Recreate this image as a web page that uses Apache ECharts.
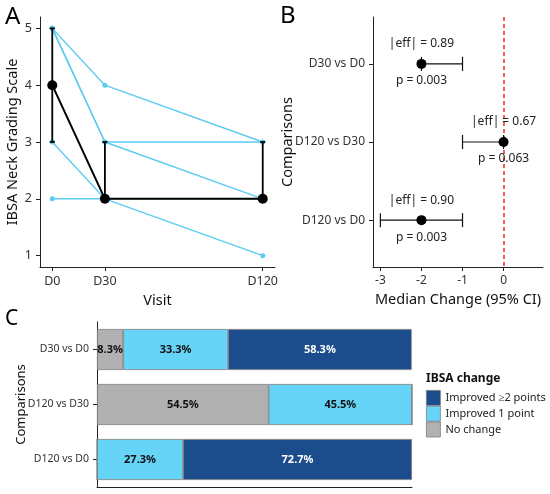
<!DOCTYPE html>
<html>
<head>
<meta charset="utf-8">
<script src="https://cdn.jsdelivr.net/npm/echarts@6/dist/echarts.min.js"></script>
<style>
  html, body { margin: 0; padding: 0; background: #fff; }
  #main { width: 550px; height: 494px; }
</style>
</head>
<body>
<div id="main"></div>
<script>
// panel A: individual patients + median (IQR)
const visitDays = [0, 30, 120]
const visitLabels = ['D0', 'D30', 'D120']
const patients = [[5, 4, 3], [5, 3, 3], [5, 3, 2], [3, 2, 1], [2, 2, 2]]
const medianScore = [4, 2, 2]
const q1Score = [3, 2, 2]
const q3Score = [5, 3, 3]
const scoreTicks = [1, 2, 3, 4, 5]

// panel B: median change (95% CI)
const comparisons = ['D30 vs D0', 'D120 vs D30', 'D120 vs D0']
const medianChange = [-2, 0, -2]
const ciLow = [-2, -1, -3]
const ciHigh = [-1, 0, -1]
const effSize = ['0.89', '0.67', '0.90']
const pValue = ['0.003', '0.063', '0.003']
const changeTicks = [-3, -2, -1, 0]

// panel C: share of patients by IBSA change
const changeGroups = ['Improved \u22652 points', 'Improved 1 point', 'No change']
const noChange = [8.3, 54.5, 0]
const improved1 = [33.3, 45.5, 27.3]
const improved2 = [58.3, 0, 72.7]

const FONT = 'Noto Sans'
const AXIS = { onZero: false, lineStyle: { color: '#222', width: 1 } }
const TICK = { length: 4, lineStyle: { color: '#222' } }
const lbl = (size) => ({ color: '#333', fontSize: size, fontFamily: FONT })
const name = (size) => ({ color: '#111', fontSize: size, fontFamily: FONT })
const BLUE = '#5CCBF2'
const colNo = '#B1B1B1', col1 = '#66D4F7', col2 = '#1B4C8B'

const series = []

patients.forEach(p => {
  series.push({
    type: 'line', xAxisIndex: 0, yAxisIndex: 0, z: 2,
    data: p.map((v, i) => [visitDays[i], v]),
    symbol: 'circle', symbolSize: 5, color: BLUE,
    lineStyle: { color: BLUE, width: 1.4 }, silent: true
  })
})

series.push({
  type: 'custom', xAxisIndex: 0, yAxisIndex: 0, z: 4,
  data: visitDays.map((d, i) => [d, q1Score[i], q3Score[i]]),
  renderItem: (params, api) => {
    const lo = api.coord([api.value(0), api.value(1)])
    const hi = api.coord([api.value(0), api.value(2)])
    const st = { stroke: '#000', lineWidth: 1.8 }
    return {
      type: 'group',
      children: [
        { type: 'line', shape: { x1: lo[0], y1: lo[1], x2: hi[0], y2: hi[1] }, style: st },
        { type: 'line', shape: { x1: lo[0] - 2.5, y1: lo[1], x2: lo[0] + 2.5, y2: lo[1] }, style: st },
        { type: 'line', shape: { x1: hi[0] - 2.5, y1: hi[1], x2: hi[0] + 2.5, y2: hi[1] }, style: st }
      ]
    }
  }
})

series.push({
  type: 'line', xAxisIndex: 0, yAxisIndex: 0, z: 5,
  data: visitDays.map((d, i) => [d, medianScore[i]]),
  symbol: 'circle', symbolSize: 10, color: '#000',
  lineStyle: { color: '#000', width: 2 }
})

// forest plot
series.push({
  type: 'custom', xAxisIndex: 1, yAxisIndex: 1, z: 4,
  data: comparisons.map((c, i) => [ciLow[i], ciHigh[i], i, medianChange[i]]),
  renderItem: (params, api) => {
    const i = api.value(2)
    const a = api.coord([api.value(0), i])
    const b = api.coord([api.value(1), i])
    const m = api.coord([api.value(3), i])
    const st = { stroke: '#111', lineWidth: 1.2 }
    const ts = { fill: '#222', fontSize: 12, fontFamily: FONT, align: 'center', verticalAlign: 'middle' }
    return {
      type: 'group',
      children: [
        { type: 'line', shape: { x1: a[0], y1: a[1], x2: b[0], y2: b[1] }, style: st },
        { type: 'line', shape: { x1: a[0], y1: a[1] - 7, x2: a[0], y2: a[1] + 7 }, style: st },
        { type: 'line', shape: { x1: b[0], y1: b[1] - 7, x2: b[0], y2: b[1] + 7 }, style: st },
        { type: 'circle', shape: { cx: m[0], cy: m[1], r: 5 }, style: { fill: '#000' } },
        { type: 'text', x: m[0], y: m[1] - 20, style: Object.assign({ text: '|eff| = ' + effSize[i] }, ts) },
        { type: 'text', x: m[0], y: m[1] + 17, style: Object.assign({ text: 'p = ' + pValue[i] }, ts) }
      ]
    }
  },
  markLine: {
    silent: true, symbol: 'none', label: { show: false }, z: 1,
    lineStyle: { color: '#F02828', type: [4, 3], width: 1.5 },
    data: [{ xAxis: 0 }]
  }
})

const barLabel = (color) => ({
  show: true, position: 'inside', color: color, fontWeight: 'bold',
  fontSize: 11, fontFamily: FONT,
  formatter: p => p.value > 0 ? p.value.toFixed(1) + '%' : ''
})
const barStyle = (c) => ({ color: c, borderColor: '#7d7d7d', borderWidth: 0.8 })

series.push({
  name: changeGroups[2], type: 'bar', stack: 'c', xAxisIndex: 2, yAxisIndex: 2,
  barWidth: 41, data: noChange, itemStyle: barStyle(colNo), label: barLabel('#111')
})
series.push({
  name: changeGroups[1], type: 'bar', stack: 'c', xAxisIndex: 2, yAxisIndex: 2,
  barWidth: 41, data: improved1, itemStyle: barStyle(col1), label: barLabel('#111')
})
series.push({
  name: changeGroups[0], type: 'bar', stack: 'c', xAxisIndex: 2, yAxisIndex: 2,
  barWidth: 41, data: improved2, itemStyle: barStyle(col2), label: barLabel('#fff')
})

const option = {
  animation: false,
  backgroundColor: '#fff',
  textStyle: { fontFamily: FONT },
  grid: [
    { left: 40, top: 17, width: 235, height: 250, outerBoundsMode: 'none' },
    { left: 373, top: 17, width: 170, height: 250, outerBoundsMode: 'none' },
    { left: 97, top: 322, width: 315, height: 165, outerBoundsMode: 'none' }
  ],
  xAxis: [
    {
      gridIndex: 0, type: 'value', min: -7, max: 127,
      axisLine: AXIS, axisTick: Object.assign({ customValues: visitDays }, TICK),
      axisLabel: Object.assign({ customValues: visitDays, formatter: v => visitLabels[visitDays.indexOf(v)] }, lbl(12.5)),
      splitLine: { show: false },
      name: 'Visit', nameLocation: 'middle', nameGap: 19, nameTextStyle: name(14.5)
    },
    {
      gridIndex: 1, type: 'value', min: -3.18, max: 0.96,
      axisLine: AXIS, axisTick: Object.assign({ customValues: changeTicks }, TICK),
      axisLabel: Object.assign({ customValues: changeTicks }, lbl(12)),
      splitLine: { show: false },
      name: 'Median Change (95% CI)', nameLocation: 'middle', nameGap: 19, nameTextStyle: name(14.5)
    },
    {
      gridIndex: 2, type: 'value', min: 0, max: 100,
      axisLine: Object.assign({ show: true }, AXIS), axisTick: { show: false },
      axisLabel: { show: false }, splitLine: { show: false }
    }
  ],
  yAxis: [
    {
      gridIndex: 0, type: 'value', min: 0.8, max: 5.2,
      axisLine: Object.assign({ show: true }, AXIS), axisTick: Object.assign({ show: true, customValues: scoreTicks }, TICK),
      axisLabel: Object.assign({ customValues: scoreTicks }, lbl(12.5)),
      splitLine: { show: false },
      name: 'IBSA Neck Grading Scale', nameLocation: 'middle', nameGap: 20, nameMoveOverlap: false, nameTextStyle: name(14.5)
    },
    {
      gridIndex: 1, type: 'value', min: -0.6, max: 2.6, inverse: true,
      axisLine: Object.assign({ show: true }, AXIS), axisTick: Object.assign({ show: true, customValues: [0, 1, 2] }, TICK),
      axisLabel: Object.assign({ customValues: [0, 1, 2], formatter: v => comparisons[v] }, lbl(12)),
      splitLine: { show: false },
      name: 'Comparisons', nameLocation: 'middle', nameGap: 78, nameMoveOverlap: false, nameTextStyle: name(14.5)
    },
    {
      gridIndex: 2, type: 'category', data: comparisons, inverse: true,
      axisLine: AXIS, axisTick: Object.assign({ show: true, alignWithLabel: true }, TICK),
      axisLabel: lbl(10.5),
      name: 'Comparisons', nameLocation: 'middle', nameGap: 69, nameMoveOverlap: false, nameTextStyle: name(13)
    }
  ],
  legend: {
    data: changeGroups, orient: 'vertical', left: 421, top: 385,
    icon: 'rect', itemWidth: 14, itemHeight: 15, itemGap: 0,
    textStyle: { color: '#222', fontSize: 11, fontFamily: FONT },
    itemStyle: { borderColor: '#7d7d7d', borderWidth: 0.8 }
  },
  graphic: [
    { type: 'text', left: 5, top: 5, style: { text: 'A', fontSize: 24, fontFamily: FONT, fill: '#000' } },
    { type: 'text', left: 280, top: 4, style: { text: 'B', fontSize: 24, fontFamily: FONT, fill: '#000' } },
    { type: 'text', left: 5, top: 309, style: { text: 'C', fontSize: 21, fontFamily: FONT, fill: '#000' } },
    { type: 'text', left: 426, top: 373, style: { text: 'IBSA change', fontSize: 12, fontWeight: 'bold', fontFamily: FONT, fill: '#111' } }
  ],
  series: series
}

const myChart = echarts.init(document.getElementById('main'))
myChart.setOption(option)
</script>
</body>
</html>
